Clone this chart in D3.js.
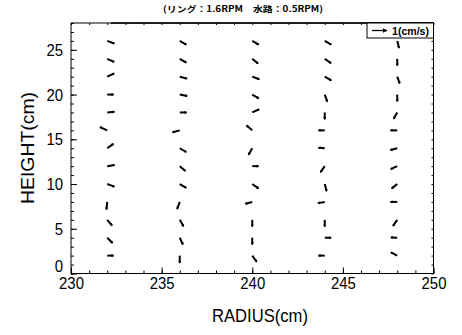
<!DOCTYPE html>
<html><head><meta charset="utf-8">
<script src="https://cdn.jsdelivr.net/npm/d3@7"></script>
<style>
body{margin:0;background:#fff;}
svg{display:block;}
text{fill:#000;}
</style></head>
<body>
<svg id="c" width="462" height="335"></svg>
<script>
// ---- data ----
const titleText = "(リング：1.6RPM　水路：0.5RPM)";
const xTicks = [230, 235, 240, 245, 250];
const yTicks = [0, 5, 10, 15, 20, 25];
const radii = [232, 236, 240, 244, 248];
const heights = [26, 24, 22, 20, 18, 16, 14, 12, 10, 8, 6, 4, 2];
// radial (u) and vertical (w) velocity components, cm/s, top to bottom
const u232 = [0.47, 0.45, 0.45, 0.42, 0.48, -0.48, 0.41, 0.48, 0.47, -0.05, 0.32, 0.35, 0.42];
const w232 = [-0.17, -0.21, 0.21, 0.00, 0.04, 0.22, 0.29, 0.07, -0.17, -0.50, -0.38, -0.35, 0.00];
const u236 = [0.43, 0.43, 0.48, 0.49, 0.45, -0.48, 0.43, 0.38, 0.43, -0.17, 0.25, 0.21, 0.00];
const w236 = [-0.25, -0.25, -0.13, -0.09, 0.00, -0.13, -0.25, -0.32, -0.25, -0.47, -0.43, -0.45, -0.48];
const u240 = [0.43, 0.38, 0.47, 0.43, 0.45, -0.38, -0.25, 0.42, 0.41, -0.46, 0.00, 0.00, 0.29];
const w240 = [-0.25, -0.32, -0.17, -0.25, 0.21, 0.32, -0.43, 0.00, -0.29, -0.12, -0.45, -0.45, -0.41];
const u244 = [0.43, 0.41, 0.43, 0.17, 0.00, -0.42, -0.42, -0.28, 0.12, -0.45, 0.00, 0.42, -0.42];
const w244 = [-0.25, -0.29, -0.25, -0.47, -0.45, 0.00, 0.03, -0.40, -0.47, -0.08, -0.45, 0.00, 0.00];
const u248 = [0.12, 0.00, 0.16, 0.00, -0.24, -0.45, -0.46, -0.43, -0.37, -0.45, -0.28, -0.42, -0.42];
const w248 = [-0.47, -0.45, -0.45, -0.45, -0.42, 0.00, -0.12, -0.20, -0.30, 0.00, -0.40, 0.02, 0.22];
const refSpeed = [1];
const refLabel = "1(cm/s)";

const uCols = [u232, u236, u240, u244, u248];
const wCols = [w232, w236, w240, w244, w248];
const vectors = [];
radii.forEach((r, i) => heights.forEach((h, j) => vectors.push({r, h, u: uCols[i][j], w: wCols[i][j]})));

// ---- layout ----
const L = 71, R = 433.5, T = 23, B = 273.5;
const svg = d3.select("#c");
const x = d3.scaleLinear().domain([230, 250]).range([L, R]);
const y = d3.scaleLinear().domain([0, 28]).range([B, T]);
const vs = d3.scaleLinear().domain([0, 1]).range([0, 15]);
const numFont = "'Liberation Sans Narrow','Arial Narrow','Liberation Sans',Arial,sans-serif";

// arrow marker (tiny heads, as in the reference)
const defs = svg.append("defs");
defs.append("marker")
  .attr("id", "ah").attr("viewBox", "0 0 10 10").attr("refX", 7).attr("refY", 5)
  .attr("markerWidth", 3).attr("markerHeight", 3).attr("markerUnits", "userSpaceOnUse")
  .attr("orient", "auto")
  .append("path").attr("d", "M0,0L10,5L0,10z").attr("fill", "#000");
defs.append("marker")
  .attr("id", "ahL").attr("viewBox", "0 0 10 10").attr("refX", 9).attr("refY", 5)
  .attr("markerWidth", 5).attr("markerHeight", 5).attr("markerUnits", "userSpaceOnUse")
  .attr("orient", "auto")
  .append("path").attr("d", "M0,0L10,5L0,10z").attr("fill", "#000");

// minor/major ticks (inward)
function tickSet(axisGen, scale, values, size, transform) {
  svg.append("g").attr("transform", transform)
    .call(axisGen(scale).tickValues(values).tickSize(size).tickFormat(""))
    .call(g => g.select(".domain").remove())
    .call(g => g.selectAll("line").attr("stroke", "#000").attr("stroke-width", 1));
}
const xMinor = d3.range(230, 251, 1), yMinor = d3.range(0, 29, 1);
tickSet(d3.axisTop, x, xMinor, 3, `translate(0,${B})`);
tickSet(d3.axisTop, x, xTicks, 6, `translate(0,${B})`);
tickSet(d3.axisRight, y, yMinor, 3, `translate(${L},0)`);
tickSet(d3.axisRight, y, yTicks, 6, `translate(${L},0)`);
tickSet(d3.axisBottom, x, xMinor, 2, `translate(0,${T})`);
tickSet(d3.axisLeft, y, yMinor, 2, `translate(${R},0)`);

const digitW = 8.3;
// tick labels
svg.append("g").attr("transform", `translate(0,${B})`)
  .call(d3.axisBottom(x).tickValues(xTicks).tickSize(0).tickPadding(3).tickFormat(d3.format("d")))
  .call(g => g.select(".domain").remove())
  .call(g => g.selectAll("text").attr("font-family", numFont).attr("font-size", 17).attr("fill", "#000")
    .attr("textLength", d => String(d).length * digitW).attr("lengthAdjust", "spacingAndGlyphs"));
svg.append("g").attr("transform", `translate(${L},0)`)
  .call(d3.axisLeft(y).tickValues(yTicks).tickSize(0).tickPadding(8).tickFormat(d3.format("d")))
  .call(g => g.select(".domain").remove())
  .call(g => g.selectAll("text").attr("font-family", numFont).attr("font-size", 17).attr("fill", "#000")
    .attr("dy", d => d === 0 ? "-0.12em" : "0.32em")
    .attr("textLength", d => String(d).length * digitW).attr("lengthAdjust", "spacingAndGlyphs"));

// frame
svg.append("rect").attr("x", L).attr("y", T).attr("width", R - L).attr("height", B - T)
  .attr("fill", "none").attr("stroke", "#000").attr("stroke-width", 1);
svg.append("line").attr("x1", L + 40).attr("x2", R).attr("y1", T).attr("y2", T)
  .attr("stroke", "#000").attr("stroke-width", 1.6);

// vectors
svg.append("g").selectAll("line").data(vectors).join("line")
  .attr("x1", d => x(d.r)).attr("y1", d => y(d.h))
  .attr("x2", d => x(d.r) + vs(d.u)).attr("y2", d => y(d.h) - vs(d.w))
  .attr("stroke", "#000").attr("stroke-width", 2)
  .attr("marker-end", "url(#ah)");

// legend box
const lg = svg.append("g");
lg.append("rect").attr("x", 367).attr("y", T).attr("width", R - 367).attr("height", 15)
  .attr("fill", "#fff").attr("stroke", "#000").attr("stroke-width", 1);
lg.selectAll("line.ref").data(refSpeed).join("line").attr("class", "ref")
  .attr("x1", 372).attr("x2", d => 372 + vs(d)).attr("y1", T + 7.5).attr("y2", T + 7.5)
  .attr("stroke", "#000").attr("stroke-width", 1.3).attr("marker-end", "url(#ahL)");
lg.append("text").attr("x", 392).attr("y", T + 11.5).attr("font-family", numFont)
  .attr("font-size", 10).attr("font-weight", "bold")
  .attr("textLength", 37).attr("lengthAdjust", "spacingAndGlyphs").text(refLabel);

// title
svg.append("text").attr("x", 243).attr("y", 12).attr("text-anchor", "middle")
  .attr("font-family", "'Noto Sans CJK JP',sans-serif").attr("font-size", 8.5).attr("font-weight", "bold")
  .attr("textLength", 160).attr("lengthAdjust", "spacingAndGlyphs").text(titleText);

// axis titles
svg.append("text").attr("x", 260).attr("y", 322).attr("text-anchor", "middle")
  .attr("font-family", numFont).attr("font-size", 19)
  .attr("textLength", 96).attr("lengthAdjust", "spacingAndGlyphs").text("RADIUS(cm)");
svg.append("text").attr("transform", "translate(34,148) rotate(-90)").attr("text-anchor", "middle")
  .attr("font-family", numFont).attr("font-size", 19)
  .attr("textLength", 112).attr("lengthAdjust", "spacingAndGlyphs").text("HEIGHT(cm)");
</script>
</body></html>
